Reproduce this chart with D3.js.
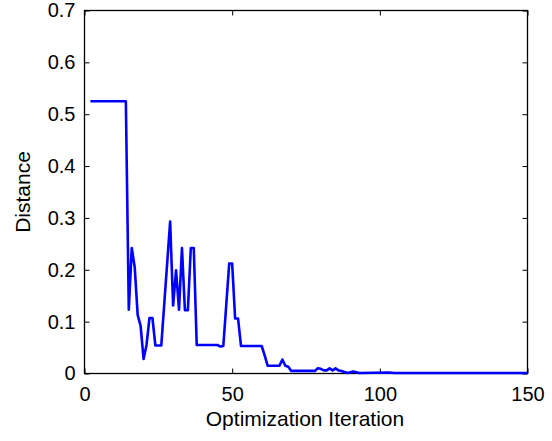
<!DOCTYPE html>
<html>
<head>
<meta charset="utf-8">
<script src="https://cdn.jsdelivr.net/npm/d3@7"></script>
<style>
  html, body { margin: 0; padding: 0; background: #fff; }
  svg { display: block; font-family: "Liberation Sans", Arial, Helvetica, sans-serif; }
</style>
</head>
<body>
<svg id="chart" width="552" height="441"></svg>
<script>
// Distance per optimization iteration
const iterations = [2, 14, 15, 16, 17, 18, 19, 20, 21, 22, 23, 24, 26, 29, 30, 31, 32, 33, 34, 35,
  36, 37, 38, 45, 46, 47, 49, 50, 51, 52, 53, 60, 61, 62, 66, 67, 68, 69, 70, 78,
  79, 80, 81, 82, 83, 84, 85, 86, 87, 88, 89, 91, 93, 103, 105, 150];
const distances = [0.525, 0.525, 0.123, 0.242, 0.205, 0.113, 0.092, 0.028, 0.055, 0.107, 0.107, 0.054, 0.054, 0.293, 0.131, 0.199, 0.123, 0.242, 0.122, 0.122,
  0.242, 0.242, 0.055, 0.055, 0.052, 0.053, 0.212, 0.212, 0.106, 0.106, 0.053, 0.053, 0.035, 0.015, 0.015, 0.027, 0.015, 0.013, 0.005, 0.005,
  0.010, 0.009, 0.006, 0.006, 0.010, 0.006, 0.010, 0.006, 0.005, 0.003, 0.001, 0.004, 0.001, 0.002, 0.001, 0.001];

const xTicks = [0, 50, 100, 150];
const yTicks = [0, 0.1, 0.2, 0.3, 0.4, 0.5, 0.6, 0.7];
const xLabel = "Optimization Iteration";
const yLabel = "Distance";

const svg = d3.select("#chart");
const plotL = 84.5, plotR = 527.5, plotT = 10.5, plotB = 373.5;

const x = d3.scaleLinear().domain([0, 150]).range([plotL, plotR]);
const y = d3.scaleLinear().domain([0, 0.7]).range([plotB, plotT]);

const tickLen = 5;
const fmtY = d => d === 0 ? "0" : d3.format(".1f")(d);

// bottom axis with inward ticks
svg.append("g").attr("transform", `translate(0,${plotB})`)
  .call(d3.axisBottom(x).tickValues(xTicks).tickSize(-tickLen).tickPadding(13).tickFormat(d3.format("d")));
// left axis with inward ticks
svg.append("g").attr("transform", `translate(${plotL},0)`)
  .call(d3.axisLeft(y).tickValues(yTicks).tickSize(-tickLen).tickPadding(9).tickFormat(fmtY));
// mirrored ticks on top and right
svg.append("g").attr("transform", `translate(0,${plotT})`)
  .call(d3.axisTop(x).tickValues(xTicks).tickSize(-tickLen).tickFormat(""));
svg.append("g").attr("transform", `translate(${plotR},0)`)
  .call(d3.axisRight(y).tickValues(yTicks).tickSize(-tickLen).tickFormat(""));

svg.selectAll(".domain").remove();
svg.selectAll(".tick line").attr("stroke", "#000").attr("stroke-width", 1);
svg.selectAll(".tick text").attr("fill", "#000").style("font-size", "20px")
  .style("font-family", "'Liberation Sans', Arial, sans-serif");

// frame
svg.append("rect")
  .attr("x", plotL).attr("y", plotT)
  .attr("width", plotR - plotL).attr("height", plotB - plotT)
  .attr("fill", "none").attr("stroke", "#000").attr("stroke-width", 1.3);

// data line
const pts = iterations.map((it, i) => [it, distances[i]]);
svg.append("path")
  .datum(pts)
  .attr("fill", "none")
  .attr("stroke", "#0000ff")
  .attr("stroke-width", 2.6)
  .attr("stroke-linejoin", "round")
  .attr("d", d3.line().x(d => x(d[0])).y(d => y(d[1])));

// axis titles
svg.append("text")
  .attr("x", (plotL + plotR) / 2 - 1).attr("y", 426)
  .attr("text-anchor", "middle")
  .style("font-size", "21px")
  .text(xLabel);

svg.append("text")
  .attr("transform", `translate(30,${(plotT + plotB) / 2}) rotate(-90)`)
  .attr("text-anchor", "middle")
  .style("font-size", "21px")
  .text(yLabel);
</script>
</body>
</html>
